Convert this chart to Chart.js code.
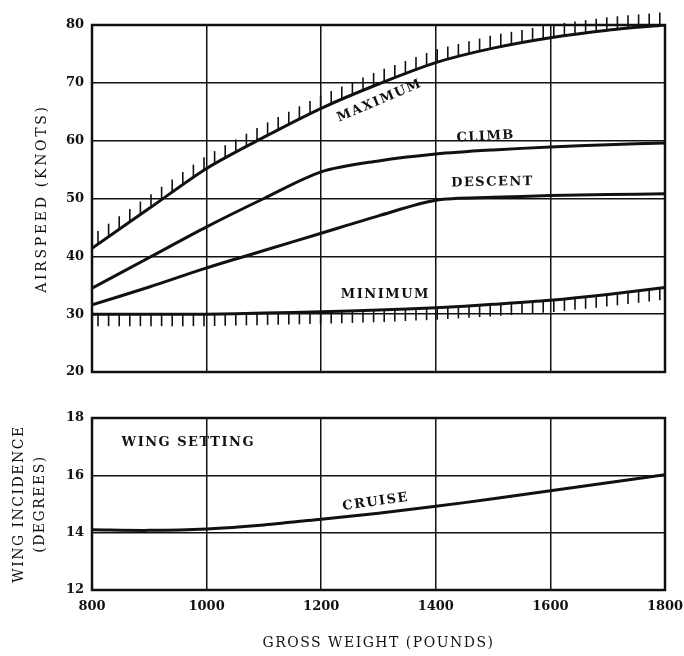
<!DOCTYPE html>
<html>
<head>
<meta charset="utf-8">
<script src="https://cdn.jsdelivr.net/npm/chart.js@4.4.1/dist/chart.umd.min.js"></script>
<style>
body { margin: 0; background: #fff; }
#wrap { position: relative; width: 684px; height: 656px; }
#top { position: absolute; left: 0; top: 0; }
#bottom { position: absolute; left: 0; top: 395px; }
</style>
</head>
<body>
<div id="wrap">
<canvas id="top" width="684" height="395"></canvas>
<canvas id="bottom" width="684" height="261"></canvas>
</div>
<script>
// gross weight (pounds)
var weights = [800, 900, 1000, 1100, 1200, 1300, 1400, 1500, 1600, 1700, 1800];
// airspeed (knots)
var maximum = [41.4, 48.3, 55.2, 60.6, 65.6, 69.8, 73.5, 76.0, 77.8, 79.1, 80.0];
var climb   = [34.5, 39.8, 45.1, 50.0, 54.6, 56.5, 57.7, 58.4, 58.9, 59.3, 59.6];
var descent = [31.6, 34.7, 38.0, 41.0, 44.0, 47.0, 49.7, 50.2, 50.5, 50.7, 50.8];
var minimum = [30.0, 30.0, 30.0, 30.2, 30.4, 30.7, 31.1, 31.7, 32.4, 33.4, 34.6];
// wing incidence (degrees)
var cruise  = [14.1, 14.08, 14.13, 14.27, 14.47, 14.68, 14.92, 15.18, 15.46, 15.74, 16.02];

var speedTicks = [20, 30, 40, 50, 60, 70, 80];
var incidenceTicks = [12, 14, 16, 18];
var weightTicks = [800, 1000, 1200, 1400, 1600, 1800];

var topLabels = [
    { text: 'MAXIMUM', x: 1302, y: 66.9, angle: -23 },
    { text: 'CLIMB', x: 1487, y: 60.7, angle: -3 },
    { text: 'DESCENT', x: 1499, y: 52.8, angle: -1 },
    { text: 'MINIMUM', x: 1312, y: 33.3, angle: 0 }
];
var bottomLabels = [
    { text: 'WING SETTING', x: 968, y: 17.15, angle: 0 },
    { text: 'CRUISE', x: 1295, y: 15.07, angle: -8 }
];

var ink = '#111';
var serif = 'DejaVu Serif';

function pts(ys) {
    return weights.map(function(w, i) { return { x: w, y: ys[i] }; });
}

function lineSet(ys, hatch) {
    return {
        data: pts(ys),
        borderColor: ink,
        borderWidth: 3,
        pointRadius: 0,
        tension: 0.3,
        fill: false,
        hatch: hatch || 0
    };
}

// short vertical strokes along a curve (limit marks)
var hatchPlugin = {
    id: 'hatch',
    afterDatasetsDraw: function(chart) {
        var ctx = chart.ctx;
        chart.data.datasets.forEach(function(ds, di) {
            if (!ds.hatch) return;
            var p = chart.getDatasetMeta(di).data;
            ctx.save();
            ctx.strokeStyle = ink;
            ctx.lineWidth = 1.6;
            for (var x = p[0].x + 6; x <= p[p.length - 1].x; x += 10.6) {
                var k = 0;
                while (k < p.length - 2 && p[k + 1].x < x) k++;
                var t = (x - p[k].x) / (p[k + 1].x - p[k].x);
                var y = p[k].y + t * (p[k + 1].y - p[k].y);
                ctx.beginPath();
                ctx.moveTo(x, y);
                ctx.lineTo(x, y + ds.hatch);
                ctx.stroke();
            }
            ctx.restore();
        });
    }
};

// thick frame round the plot, plus letter spacing for the axis titles
function framePlugin(spacing) {
    return {
        id: 'frame',
        beforeDraw: function(chart) {
            Object.keys(spacing).forEach(function(id) {
                var s = chart.scales[id];
                if (!s || s._spaced) return;
                var orig = s.drawTitle;
                s.drawTitle = function() {
                    var c = this.ctx;
                    c.save();
                    c.letterSpacing = spacing[id];
                    orig.apply(this, arguments);
                    c.restore();
                };
                s._spaced = true;
            });
        },
        afterDraw: function(chart) {
            var a = chart.chartArea, ctx = chart.ctx;
            ctx.save();
            ctx.strokeStyle = ink;
            ctx.lineWidth = 2.5;
            ctx.strokeRect(a.left, a.top, a.right - a.left, a.bottom - a.top);
            ctx.restore();
        }
    };
}

function labelPlugin(labels) {
    return {
        id: 'curveLabels',
        afterDraw: function(chart) {
            var ctx = chart.ctx, sx = chart.scales.x, sy = chart.scales.y;
            ctx.save();
            ctx.fillStyle = ink;
            ctx.font = 'bold 13px "' + serif + '"';
            ctx.letterSpacing = '1.5px';
            ctx.textAlign = 'center';
            ctx.textBaseline = 'middle';
            labels.forEach(function(l) {
                ctx.save();
                ctx.translate(sx.getPixelForValue(l.x), sy.getPixelForValue(l.y));
                ctx.rotate(l.angle * Math.PI / 180);
                ctx.fillText(l.text, 0, 0);
                ctx.restore();
            });
            ctx.restore();
        }
    };
}

function plain(v) { return String(v); }
function weightAxisFit(h) {
    return function(s) { s.height = h; s.paddingLeft = 0; s.paddingRight = 0; };
}

var gridOpts = { color: ink, lineWidth: 1.5, drawTicks: false };
var tickFont = { family: serif, size: 13, weight: 'bold' };
var titleFont = { family: serif, size: 14 };

new Chart(document.getElementById('top'), {
    type: 'line',
    data: {
        datasets: [
            lineSet(maximum, -13),
            lineSet(climb),
            lineSet(descent),
            lineSet(minimum, 12)
        ]
    },
    options: {
        responsive: false,
        animation: false,
        layout: { padding: { top: 25, right: 19, left: 0, bottom: 0 } },
        plugins: { legend: { display: false }, tooltip: { enabled: false } },
        scales: {
            x: {
                type: 'linear', min: 800, max: 1800,
                afterBuildTicks: function(s) { s.ticks = weightTicks.map(function(v) { return { value: v }; }); },
                ticks: { display: false },
                grid: gridOpts,
                border: { display: false },
                afterFit: weightAxisFit(23)
            },
            y: {
                min: 20, max: 80,
                afterBuildTicks: function(s) { s.ticks = speedTicks.map(function(v) { return { value: v }; }); },
                ticks: { color: ink, font: tickFont, padding: 8, callback: plain },
                grid: gridOpts,
                border: { display: false },
                title: { display: true, text: 'AIRSPEED (KNOTS)', color: ink, font: titleFont, padding: { top: 34 } },
                afterFit: function(s) { s.width = 92; }
            }
        }
    },
    plugins: [hatchPlugin, framePlugin({ y: '2.7px' }), labelPlugin(topLabels)]
});

new Chart(document.getElementById('bottom'), {
    type: 'line',
    data: { datasets: [lineSet(cruise)] },
    options: {
        responsive: false,
        animation: false,
        layout: { padding: { top: 23, right: 19, left: 0, bottom: 0 } },
        plugins: { legend: { display: false }, tooltip: { enabled: false } },
        scales: {
            x: {
                type: 'linear', min: 800, max: 1800,
                afterBuildTicks: function(s) { s.ticks = weightTicks.map(function(v) { return { value: v }; }); },
                ticks: { color: ink, font: tickFont, padding: 9, maxRotation: 0, callback: plain },
                grid: gridOpts,
                border: { display: false },
                title: { display: true, text: 'GROSS WEIGHT (POUNDS)', color: ink, font: titleFont, padding: { bottom: 4 } },
                afterFit: weightAxisFit(66)
            },
            y: {
                min: 12, max: 18,
                afterBuildTicks: function(s) { s.ticks = incidenceTicks.map(function(v) { return { value: v }; }); },
                ticks: { color: ink, font: tickFont, padding: 8, callback: plain },
                grid: gridOpts,
                border: { display: false },
                title: { display: true, text: ['WING INCIDENCE', '(DEGREES)'], color: ink, font: { family: serif, size: 14, lineHeight: 1.5 }, padding: { top: 9 } },
                afterFit: function(s) { s.width = 92; }
            }
        }
    },
    plugins: [framePlugin({ x: '1.5px', y: '1.5px' }), labelPlugin(bottomLabels)]
});
</script>
</body>
</html>
